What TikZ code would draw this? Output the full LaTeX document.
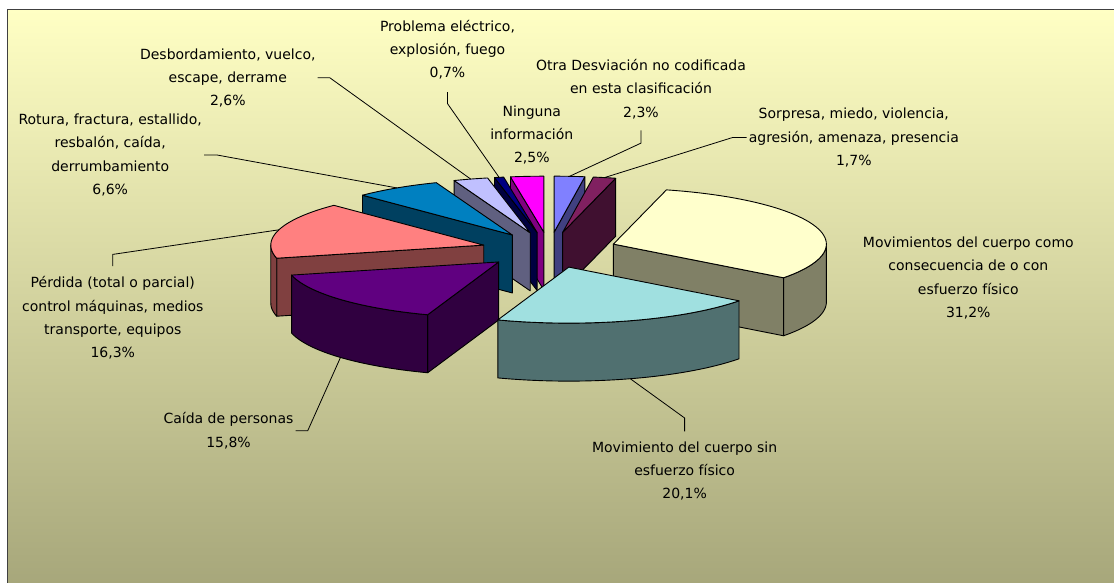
\documentclass[tikz,border=0pt]{standalone}
\usepackage{fontspec}
\setmainfont{DejaVu Sans}
\usepackage{tikz}
\usetikzlibrary{calc}

%% colours of the slices (top face / side faces)
\definecolor{otraTop}{HTML}{8080FF}\definecolor{otraSide}{HTML}{404080}
\definecolor{sorpTop}{HTML}{802060}\definecolor{sorpSide}{HTML}{401030}
\definecolor{movTop}{HTML}{FFFFCC}\definecolor{movSide}{HTML}{808066}
\definecolor{sinTop}{HTML}{A0E0E0}\definecolor{sinSide}{HTML}{507070}
\definecolor{caidaTop}{HTML}{600080}\definecolor{caidaSide}{HTML}{300040}
\definecolor{perdTop}{HTML}{FF8080}\definecolor{perdSide}{HTML}{804040}
\definecolor{rotTop}{HTML}{0080C0}\definecolor{rotSide}{HTML}{004060}
\definecolor{desbTop}{HTML}{C0C0FF}\definecolor{desbSide}{HTML}{606080}
\definecolor{probTop}{HTML}{000080}\definecolor{probSide}{HTML}{000040}
\definecolor{ningTop}{HTML}{FF00FF}\definecolor{ningSide}{HTML}{800080}
\definecolor{bgTop}{HTML}{FFFFC4}\definecolor{bgBot}{HTML}{A6A67A}

\tikzset{
  pieedge/.style={draw=black, line width=0.9pt, line join=round},
  lbl/.style={align=center, inner sep=2pt, text=black,
    font=\fontsize{14}{23.2}\selectfont},
  leader/.style={draw=black, line width=0.8pt},
}

%% pie geometry (pixels)
\newcommand{\pieOx}{549.2}
\newcommand{\pieOy}{250}
\newcommand{\pieR}{213}
\newcommand{\pieRy}{56}
\newcommand{\pieH}{58}
\newcommand{\pieD}{68}

%% one exploded slice: name, start angle, end angle, top colour, side colour
\newcommand{\pieslice}[5]{%
  \pgfmathsetmacro{\slMid}{(#2+#3)/2}%
  \pgfmathsetmacro{\slAx}{\pieOx+\pieD*sin(\slMid)}%
  \pgfmathsetmacro{\slAy}{\pieOy-\pieD*\pieRy/\pieR*cos(\slMid)}%
  \pgfmathtruncatemacro{\slSideA}{sin(#2)<-0.01 ? 1 : 0}%
  \pgfmathtruncatemacro{\slSideB}{sin(#3)>0.01 ? 1 : 0}%
  \pgfmathsetmacro{\slWs}{max(#2,90)}%
  \pgfmathsetmacro{\slWe}{min(#3,270)}%
  \pgfmathtruncatemacro{\slWall}{\slWe>\slWs ? 1 : 0}%
  \ifnum\slSideA=1
    \filldraw[pieedge, fill=#5] (\slAx,\slAy)
      -- ({\slAx+\pieR*sin(#2)},{\slAy-\pieRy*cos(#2)}) -- ++(0,\pieH)
      -- (\slAx,{\slAy+\pieH}) -- cycle;
  \fi
  \ifnum\slSideB=1
    \filldraw[pieedge, fill=#5] (\slAx,\slAy)
      -- ({\slAx+\pieR*sin(#3)},{\slAy-\pieRy*cos(#3)}) -- ++(0,\pieH)
      -- (\slAx,{\slAy+\pieH}) -- cycle;
  \fi
  \ifnum\slWall=1
    \filldraw[pieedge, fill=#5]
      plot[domain=\slWs:\slWe, samples=40] ({\slAx+\pieR*sin(\x)},{\slAy-\pieRy*cos(\x)})
      -- plot[domain=\slWe:\slWs, samples=40] ({\slAx+\pieR*sin(\x)},{\slAy-\pieRy*cos(\x)+\pieH})
      -- cycle;
  \fi
  \filldraw[pieedge, fill=#4] (\slAx,\slAy)
    -- plot[domain=#2:#3, samples=50] ({\slAx+\pieR*sin(\x)},{\slAy-\pieRy*cos(\x)}) -- cycle;
  \coordinate (#1-rim) at ({\slAx+\pieR*sin(\slMid)},{\slAy-\pieRy*cos(\slMid)});
  \coordinate (#1-base) at ({\slAx+\pieR*sin(\slMid)},{\slAy-\pieRy*cos(\slMid)+\pieH});
}

\begin{document}
\begin{tikzpicture}[x=1pt,y=-1pt]
\useasboundingbox (0,0) rectangle (1114,582);
\clip (0,0) rectangle (1114,582);

%% background and frame
\shade[top color=bgTop, bottom color=bgBot] (7.5,9.5) rectangle (1120,590);
\draw[line width=1.3pt, draw=black!75] (7.5,590) -- (7.5,9.5) -- (1120,9.5);

%% slices, back to front
\pieslice{otra}{0}{8.297}{otraTop}{otraSide}
\pieslice{ning}{350.98}{360}{ningTop}{ningSide}
\pieslice{prob}{348.46}{350.98}{probTop}{probSide}
\pieslice{sorp}{8.297}{14.429}{sorpTop}{sorpSide}
\pieslice{desb}{339.08}{348.46}{desbTop}{desbSide}
\pieslice{rot}{315.27}{339.08}{rotTop}{rotSide}
\pieslice{mov}{14.429}{126.97}{movTop}{movSide}
\pieslice{perd}{256.47}{315.27}{perdTop}{perdSide}
\pieslice{caida}{199.48}{256.47}{caidaTop}{caidaSide}
\pieslice{sin}{126.97}{199.48}{sinTop}{sinSide}

%%% labels
\node[lbl] (problema) at (447.5,49.7) {Problema eléctrico,\\explosión, fuego\\0,7\%};
\node[lbl] (desbordamiento) at (227.8,77.7) {Desbordamiento, vuelco,\\escape, derrame\\2,6\%};
\node[lbl] (rotura) at (110.2,155) {Rotura, fractura, estallido,\\resbalón, caída,\\derrumbamiento\\6,6\%};
\node[lbl] (ninguna) at (531.8,135) {Ninguna\\información\\2,5\%};
\node[lbl] (otra) at (641,89.2) {Otra Desviación no codificada\\en esta clasificación\\2,3\%};
\node[lbl] (sorpresa) at (853.8,137.5) {Sorpresa, miedo, violencia,\\agresión, amenaza, presencia\\1,7\%};
\node[lbl] (movimientos) at (968.3,278) {Movimientos del cuerpo como\\consecuencia de o con\\esfuerzo físico\\31,2\%};
\node[lbl] (movsin) at (684.6,471.1) {Movimiento del cuerpo sin\\esfuerzo físico\\20,1\%};
\node[lbl] (caida) at (228.5,430.8) {Caída de personas\\15,8\%};
\node[lbl] (perdida) at (112.8,318) {Pérdida (total o parcial)\\control máquinas, medios\\transporte, equipos\\16,3\%};

%%% leader lines
\draw[leader] (desbordamiento.east) -- ++(12,0) -- (desb-rim);
\draw[leader] (rotura.east) -- ++(13,0) -- (rot-rim);
\draw[leader] ($(problema.south)+(0,10.5)$) -- ++(0,11.6) -- (prob-rim);
\draw[leader] ($(otra.south)+(0,9.4)$) -- ++(0,12.7) -- (otra-rim);
\draw[leader] (sorpresa.west) -- ++(-14,0) -- (sorp-rim);
\draw[leader] ($(perdida.north)+(0,-8.5)$) -- ++(0,-11.7) -- (perd-rim);
\draw[leader] (caida.east) -- ++(12,0) -- (caida-base);
\draw[leader] ($(movsin.north)+(0,-8.2)$) -- ++(0,-13.4) -- (sin-base);

\end{tikzpicture}
\end{document}
